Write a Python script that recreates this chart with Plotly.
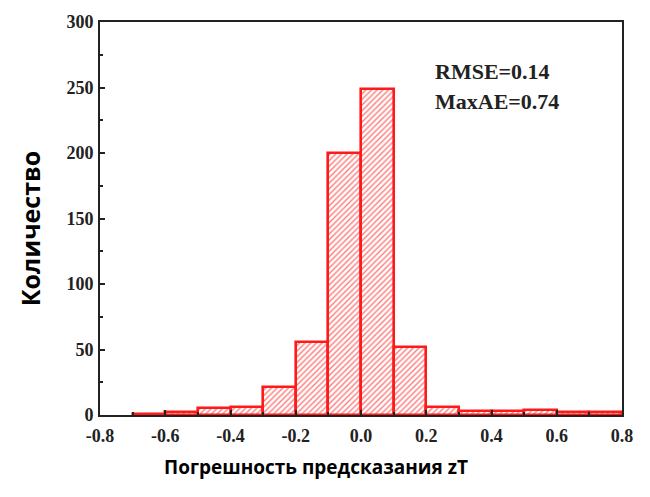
import plotly.graph_objects as go

# Histogram of zT prediction error: bin left edges, bin width, counts
bin_left = [-0.7, -0.6, -0.5, -0.4, -0.3, -0.2, -0.1, 0.0, 0.1, 0.2, 0.3, 0.4, 0.5, 0.6, 0.7]
bin_width = 0.1
counts = [1, 2, 5, 6, 21, 56, 200, 249, 52, 6, 3, 3, 4, 2, 2]

x_tick_vals = [-0.8, -0.6, -0.4, -0.2, 0.0, 0.2, 0.4, 0.6, 0.8]
x_tick_text = ["-0.8", "-0.6", "-0.4", "-0.2", "0.0", "0.2", "0.4", "0.6", "0.8"]
y_tick_vals = [0, 50, 100, 150, 200, 250, 300]
y_tick_text = ["0", "50", "100", "150", "200", "250", "300"]

x_title = "Погрешность предсказания zT"
y_title = "Количество"
stats_text = ["RMSE=0.14", "MaxAE=0.74"]

centers = [round(b + bin_width / 2, 3) for b in bin_left]

fig = go.Figure(
    go.Bar(
        x=centers,
        y=counts,
        width=bin_width,
        marker=dict(
            color="white",
            line=dict(color="#ff1a1a", width=2.6),
            pattern=dict(shape="/", fgcolor="#ff4040", bgcolor="white",
                         size=4, solidity=0.35, fgopacity=0.7),
        ),
        showlegend=False,
    )
)

serif = "Liberation Serif, Times New Roman, serif"
tick_font = dict(family=serif, size=18, color="#222")
axis_common = dict(
    showline=True, linecolor="#222", linewidth=2, mirror=True,
    ticks="inside", ticklen=5, tickwidth=2, tickcolor="#222",
    showgrid=False, zeroline=False, tickfont=tick_font,
)

fig.update_xaxes(
    range=[-0.8, 0.8], tickvals=x_tick_vals,
    ticktext=["<b>" + t + "</b>" for t in x_tick_text],
    ticklabelstandoff=3,
    minor=dict(ticks="inside", ticklen=3, tickwidth=1.5, tickcolor="#222", dtick=0.1, tick0=-0.8),
    **axis_common,
)
fig.update_yaxes(
    range=[0, 300], tickvals=y_tick_vals,
    ticktext=["<b>" + t + "</b>" for t in y_tick_text],
    ticklabelstandoff=1,
    minor=dict(ticks="inside", ticklen=3, tickwidth=1.5, tickcolor="#222", dtick=25, tick0=0),
    **axis_common,
)

# Axis titles
fig.add_annotation(
    xref="paper", yref="paper", x=0.414, y=-0.133, xanchor="center", yanchor="middle",
    text="<b>" + x_title + "</b>", showarrow=False,
    font=dict(family="Open Sans", size=19, color="black"),
)
fig.add_annotation(
    xref="paper", yref="paper", x=-0.135, y=0.474, xanchor="center", yanchor="middle",
    text="<b>" + y_title + "</b>", showarrow=False, textangle=-90,
    font=dict(family="Open Sans", size=25, color="black"),
)

# Error statistics
for text, ypos in zip(stats_text, [0.873, 0.798]):
    fig.add_annotation(
        xref="paper", yref="paper", x=0.637, y=ypos, xanchor="left", yanchor="middle",
        text="<b>" + text + "</b>", showarrow=False,
        font=dict(family=serif, size=22, color="#222"),
    )

fig.update_layout(
    width=650, height=497,
    margin=dict(l=100, r=28, t=16, b=82),
    paper_bgcolor="white", plot_bgcolor="white",
    bargap=0,
)

fig.write_html("out.html")
